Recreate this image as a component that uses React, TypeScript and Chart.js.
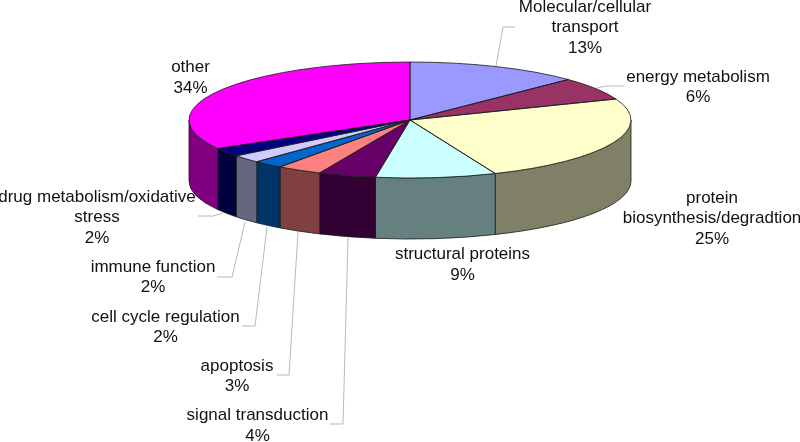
import React, { useEffect, useRef } from "react";
import { Chart, registerables } from "chart.js";

Chart.register(...registerables);

const categories = [
  "Molecular/cellular transport",
  "energy metabolism",
  "protein biosynthesis/degradtion",
  "structural proteins",
  "signal transduction",
  "apoptosis",
  "cell cycle regulation",
  "immune function",
  "drug metabolism/oxidative stress",
  "other",
];
const sliceValues = [12.7, 6.4, 24.6, 8.8, 4.2, 3.3, 2.2, 2.2, 2.4, 33.2];
const percentLabels = ["13%", "6%", "25%", "9%", "4%", "3%", "2%", "2%", "2%", "34%"];
const topColors = ["#9999FF", "#993366", "#FFFFCC", "#CCFFFF", "#660066", "#FF8080", "#0066CC", "#CCCCFF", "#000080", "#FF00FF"];
const sideColors = ["#4D4D80", "#4D1A33", "#808066", "#668080", "#330033", "#804040", "#003366", "#666680", "#000040", "#800080"];

const labelLines = [
  ["Molecular/cellular", "transport"],
  ["energy metabolism"],
  ["protein", "biosynthesis/degradtion"],
  ["structural proteins"],
  ["signal transduction"],
  ["apoptosis"],
  ["cell cycle regulation"],
  ["immune function"],
  ["drug metabolism/oxidative", "stress"],
  ["other"],
];
const labelAnchors = [
  [585, 7], [698, 77], [712, 198], [462.5, 254.5], [257.5, 415.5],
  [237, 366], [165.5, 317], [153, 267], [97, 197], [190.5, 67.5],
];
const leaders = [
  [[496, 66], [503, 27], [515, 27]],
  [[597, 88], [605, 86], [624, 86]],
  [],
  [],
  [[348, 238], [343, 424], [330, 424]],
  [[298, 232], [289, 375], [277, 375]],
  [[267, 227], [255, 326], [242, 326]],
  [[245, 222], [232, 277], [217, 277]],
  [[223, 213], [213, 216], [198, 216]],
  [],
];

const CENTER_Y = 120;
const RADIUS_Y = 58;
const DEPTH = 61;
const LINE_STEP = 20.8;

const applySquash = (ctx: CanvasRenderingContext2D, y: number, r: number) => {
  ctx.translate(0, CENTER_Y);
  ctx.scale(1, RADIUS_Y / r);
  ctx.translate(0, -y);
};

const pie3d = {
  id: "pie3d",
  beforeDatasetsDraw(chart: any) {
    const ctx: CanvasRenderingContext2D = chart.ctx;
    const arcs = chart.getDatasetMeta(0).data;
    const first = arcs[0];
    const r = first.outerRadius;
    const cx = first.x;
    ctx.save();
    ctx.strokeStyle = "#1a1a1a";
    ctx.lineWidth = 0.8;
    arcs.forEach((arc: any, i: number) => {
      const s = Math.max(arc.startAngle, 0);
      const e = Math.min(arc.endAngle, Math.PI);
      if (e <= s) return;
      ctx.beginPath();
      ctx.ellipse(cx, CENTER_Y, r, RADIUS_Y, 0, s, e);
      ctx.ellipse(cx, CENTER_Y + DEPTH, r, RADIUS_Y, 0, e, s, true);
      ctx.closePath();
      ctx.fillStyle = sideColors[i];
      ctx.fill();
      ctx.stroke();
    });
    ctx.restore();
    ctx.save();
    applySquash(ctx, first.y, r);
  },
  afterDatasetsDraw(chart: any) {
    const ctx: CanvasRenderingContext2D = chart.ctx;
    ctx.restore();
    const arcs = chart.getDatasetMeta(0).data;
    ctx.strokeStyle = "#1a1a1a";
    ctx.lineWidth = 0.8;
    arcs.forEach((arc: any) => {
      ctx.beginPath();
      ctx.save();
      applySquash(ctx, arc.y, arc.outerRadius);
      ctx.moveTo(arc.x, arc.y);
      ctx.arc(arc.x, arc.y, arc.outerRadius, arc.startAngle, arc.endAngle);
      ctx.closePath();
      ctx.restore();
      ctx.stroke();
    });

    ctx.strokeStyle = "#b8b8b8";
    ctx.lineWidth = 1;
    leaders.forEach((pts) => {
      if (!pts.length) return;
      ctx.beginPath();
      pts.forEach(([x, y], i) => (i ? ctx.lineTo(x, y) : ctx.moveTo(x, y)));
      ctx.stroke();
    });

    ctx.fillStyle = "#111";
    ctx.font = '17px "Liberation Sans"';
    ctx.textAlign = "center";
    ctx.textBaseline = "middle";
    labelLines.forEach((lines, i) => {
      const [x, y] = labelAnchors[i];
      [...lines, percentLabels[i]].forEach((t, j) => ctx.fillText(t, x, y + j * LINE_STEP));
    });
  },
};

export default function App() {
  const ref = useRef<HTMLCanvasElement>(null);
  useEffect(() => {
    const chart = new Chart(ref.current!, {
      type: "pie",
      data: {
        labels: categories,
        datasets: [{ data: sliceValues, backgroundColor: topColors, borderWidth: 0 }],
      },
      options: {
        animation: false,
        responsive: false,
        layout: { padding: { left: 20 } },
        plugins: { legend: { display: false }, tooltip: { enabled: false } },
      },
      plugins: [pie3d],
    } as any);
    return () => chart.destroy();
  }, []);
  return (
    <div style={{ position: "absolute", left: 0, top: 0, width: 800, height: 442, background: "#fff" }}>
      <canvas ref={ref} width={800} height={442} style={{ display: "block" }} />
    </div>
  );
}
